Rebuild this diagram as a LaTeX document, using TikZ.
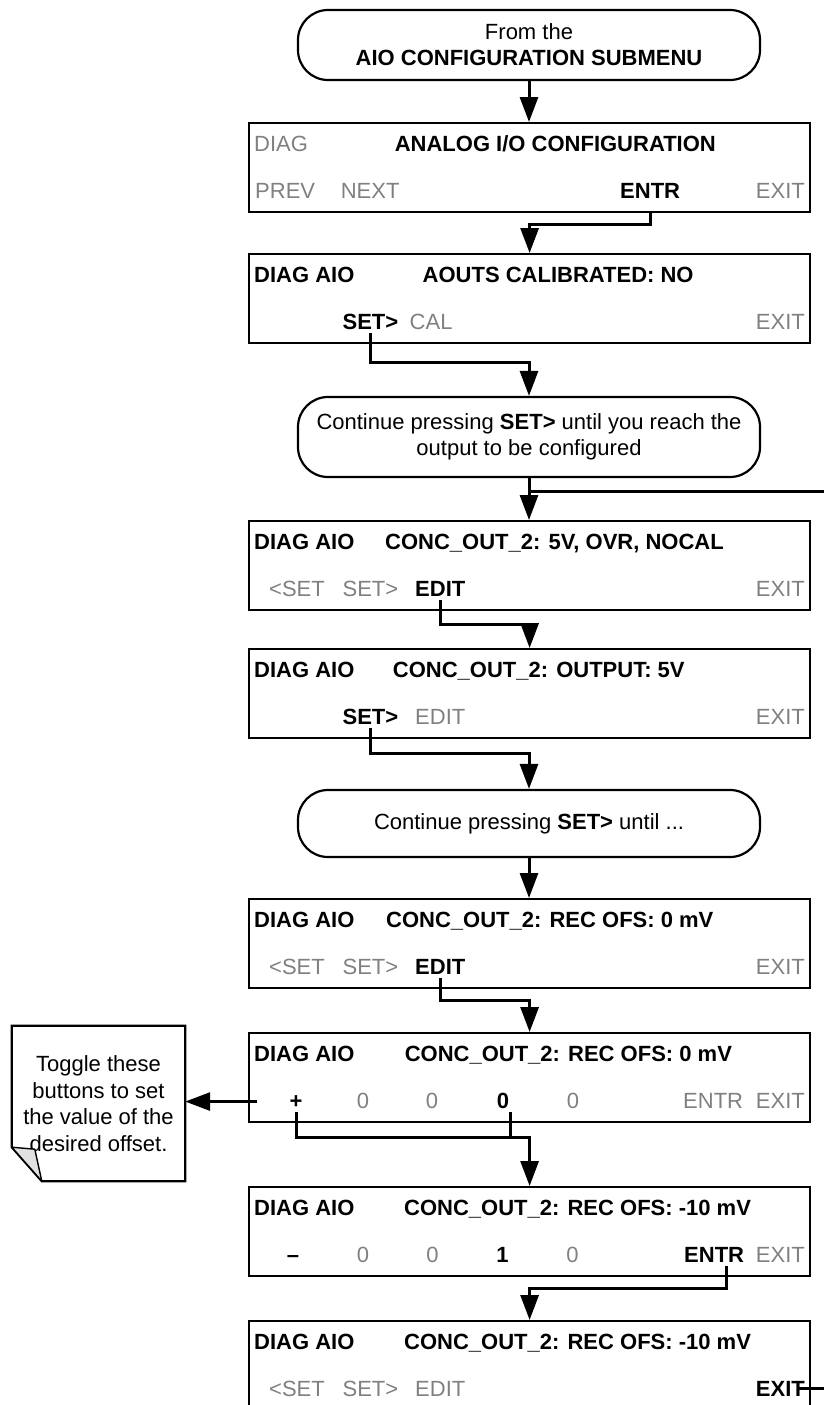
\documentclass[tikz,border=0pt]{standalone}
\usepackage{fontspec}
\setmainfont{Liberation Sans}
\usetikzlibrary{arrows.meta}
\definecolor{gtxt}{RGB}{128,128,128}
\definecolor{foldgray}{RGB}{225,225,225}
\tikzset{
  screen/.style={draw, line width=2.2pt, minimum width=561pt, minimum height=89pt, anchor=north west, inner sep=0pt},
  term/.style={draw, line width=2.2pt, rounded corners=30pt, minimum width=462pt, align=center, inner sep=0pt, font=\fontsize{22}{26}\selectfont},
  lbl/.style={inner sep=0pt, anchor=base west, font=\fontsize{22}{26}\selectfont},
  lblc/.style={inner sep=0pt, anchor=base, font=\fontsize{22}{26}\selectfont},
  lble/.style={inner sep=0pt, anchor=base east, font=\fontsize{22}{26}\selectfont},
  gr/.style={text=gtxt},
  conn/.style={line width=3pt},
  arr/.style={line width=3pt, -{Triangle[length=25pt,width=18pt]}}
}
\begin{document}
\begin{tikzpicture}[x=1pt,y=-1pt]
\useasboundingbox (0,0) rectangle (824,1405);

% terminators
\node[term, minimum height=70pt] (T1) at (529,45) {From the\\\textbf{AIO CONFIGURATION SUBMENU}};
\node[term, minimum height=80pt] (T2) at (529,437) {Continue pressing \textbf{SET>} until you reach the\\output to be configured};
\node[term, minimum height=67pt] (T3) at (529,823.5) {Continue pressing \textbf{SET>} until ...};

% screens
\node[screen] (B1) at (248,122) {};
\node[screen] (B2) at (248,253) {};
\node[screen] (B3) at (248,520) {};
\node[screen] (B4) at (248,648) {};
\node[screen] (B5) at (248,898) {};
\node[screen] (B6) at (248,1032) {};
\node[screen] (B7) at (248,1186) {};
\node[screen] (B8) at (248,1320) {};

% B1
\node[lbl,gr] (B1a) at (254,151) {DIAG};
\node[lbl] (B1b) at (394.6,151) {\textbf{ANALOG I/O CONFIGURATION}};
\node[lbl,gr] (B1c) at (255,198) {PREV};
\node[lbl,gr] (B1d) at (340.6,198) {NEXT};
\node[lbl] (N1) at (620,198) {\textbf{ENTR}};
\node[lble,gr] (X1) at (805,198) {EXIT};

% B2
\node[lbl] (B2a) at (254,282) {\textbf{DIAG AIO}};
\node[lbl] (B2b) at (422.5,282) {\textbf{AOUTS CALIBRATED: NO}};
\node[lbl] (S2) at (342.4,329) {\textbf{SET>}};
\node[lbl,gr] (C2) at (409.5,329) {CAL};
\node[lble,gr] (X2) at (805,329) {EXIT};

% B3
\node[lbl] (B3a) at (254,549) {\textbf{DIAG AIO}};
\node[lbl] (B3b) at (385,549) {\textbf{CONC\_OUT\_2: 5V, OVR, NOCAL}};
\node[lbl,gr] (L3) at (269,596) {<SET};
\node[lbl,gr] (S3) at (342.4,596) {SET>};
\node[lbl] (E3) at (415,596) {\textbf{EDIT}};
\node[lble,gr] (X3) at (805,596) {EXIT};

% B4
\node[lbl] (B4a) at (254,677) {\textbf{DIAG AIO}};
\node[lbl] (B4b) at (392.7,677) {\textbf{CONC\_OUT\_2: OUTPUT: 5V}};
\node[lbl] (S4) at (342.4,724) {\textbf{SET>}};
\node[lbl,gr] (E4) at (415,724) {EDIT};
\node[lble,gr] (X4) at (805,724) {EXIT};

% B5
\node[lbl] (B5a) at (254,927) {\textbf{DIAG AIO}};
\node[lbl] (B5b) at (386,927) {\textbf{CONC\_OUT\_2: REC OFS: 0 mV}};
\node[lbl,gr] (L5) at (269,974) {<SET};
\node[lbl,gr] (S5) at (342.4,974) {SET>};
\node[lbl] (E5) at (415,974) {\textbf{EDIT}};
\node[lble,gr] (X5) at (805,974) {EXIT};

% B6
\node[lbl] (B6a) at (254,1061) {\textbf{DIAG AIO}};
\node[lbl] (B6b) at (404.6,1061) {\textbf{CONC\_OUT\_2: REC OFS: 0 mV}};
\node[lblc] (P6) at (296,1108) {\textbf{+}};
\node[lblc,gr] (D6a) at (363,1108) {0};
\node[lblc,gr] (D6b) at (432,1108) {0};
\node[lblc] (Z6) at (503,1108) {\textbf{0}};
\node[lblc,gr] (D6d) at (573,1108) {0};
\node[lbl,gr] (N6) at (683,1108) {ENTR};
\node[lble,gr] (X6) at (805,1108) {EXIT};

% B7
\node[lbl] (B7a) at (254,1215) {\textbf{DIAG AIO}};
\node[lbl] (B7b) at (404,1215) {\textbf{CONC\_OUT\_2: REC OFS: -10 mV}};
\node[lblc] (M7) at (293,1262) {\textbf{–}};
\node[lblc,gr] (D7a) at (363,1262) {0};
\node[lblc,gr] (D7b) at (432.5,1262) {0};
\node[lblc] (O7) at (502.6,1262) {\textbf{1}};
\node[lblc,gr] (D7d) at (572.6,1262) {0};
\node[lbl] (N7) at (684,1262) {\textbf{ENTR}};
\node[lble,gr] (X7) at (805,1262) {EXIT};

% B8
\node[lbl] (B8a) at (254,1349) {\textbf{DIAG AIO}};
\node[lbl] (B8b) at (404,1349) {\textbf{CONC\_OUT\_2: REC OFS: -10 mV}};
\node[lbl,gr] (L8) at (269,1396) {<SET};
\node[lbl,gr] (S8) at (342.4,1396) {SET>};
\node[lbl,gr] (E8) at (415,1396) {EDIT};
\node[lble] (X8) at (805,1396) {\textbf{EXIT}};

% note
\node[inner sep=0pt, minimum width=173pt, minimum height=155pt, align=center,
      font=\fontsize{22}{26.7}\selectfont] (note) at (98.5,1103.5)
      {Toggle these\\buttons to set\\the value of the\\desired offset.};
\draw[line width=2.2pt, line join=miter]
  (note.north west) -- (note.north east) -- (note.south east)
  -- ([xshift=30pt]note.south west) -- ([yshift=34pt]note.south west) -- cycle;
\filldraw[fill=foldgray, line width=1.4pt, line join=round]
  ([yshift=34pt]note.south west) -- ([xshift=23pt,yshift=32pt]note.south west)
  .. controls ([xshift=27pt,yshift=16pt]note.south west) .. ([xshift=30pt]note.south west) -- cycle;

% edge coordinates
\coordinate (edgeA) at (824,491);
\coordinate (edgeB) at (824,1384);

% connectors
\draw[arr] (T1.south) -- (T1.south |- B1.north);
\draw[arr] (N1.south |- B1.south) -- ++(0,11) -| (B2.north);
\draw[arr] ([yshift=-4pt]S2.south) -- ++(0,29) -| (T2.north);
\draw[arr] (T2.south) -- (T2.south |- B3.north);
\draw[conn] (T2.south |- edgeA) -- (edgeA);
\draw[arr] ([yshift=-4pt]E3.south) -- ++(0,24) -| (B4.north);
\draw[arr] ([yshift=-4pt]S4.south) -- ++(0,25) -| (T3.north);
\draw[arr] (T3.south) -- (T3.south |- B5.north);
\draw[arr] ([yshift=-4pt]E5.south) -- ++(0,22) -| (B6.north);
\draw[arr] ([yshift=-4pt]P6.south) -- ++(0,25) -| (B7.north);
\draw[conn] ([xshift=7pt,yshift=-4pt]Z6.south) -- ++(0,25);
\draw[arr] ([xshift=9pt]B6.west |- P6.center) -- (note.east |- P6.center);
\draw[arr] ([xshift=12pt,yshift=-4pt]N7.south) -- ++(0,22) -| (B8.north);
\draw[conn] ([xshift=-6pt]X8.east) -- (X8.east -| edgeB);
\end{tikzpicture}
\end{document}
